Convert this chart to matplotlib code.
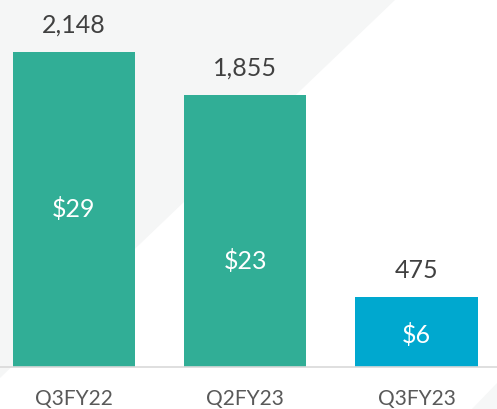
import matplotlib
matplotlib.use("Agg")
import matplotlib.pyplot as plt
from matplotlib.patches import Polygon

categories = ["Q3FY22", "Q2FY23", "Q3FY23"]
values = [2148, 1855, 475]
value_labels = ["2,148", "1,855", "475"]
inner_labels = ["$29", "$23", "$6"]
bar_colors = ["#31ae96", "#31ae96", "#00a8cf"]

# vertical placement of the inner labels, as a fraction of bar height
inner_frac = [0.476, 0.361, 0.35]

plt.rcParams['font.family'] = ['Lato', 'DejaVu Sans']

W, H = 497, 409
fig = plt.figure(figsize=(W / 100, H / 100), dpi=100)
fig.patch.set_facecolor("white")

# background decoration
fig.add_artist(Polygon([(0, 1), (395 / W, 1), (0, 1 - 378 / H)], closed=True,
                       transform=fig.transFigure, facecolor="#f5f6f6",
                       edgecolor="none", zorder=0))
fig.add_artist(Polygon([(472 / W, 0), (1, 26 / H), (1, 0)], closed=True,
                       transform=fig.transFigure, facecolor="#f6f7f7",
                       edgecolor="none", zorder=0))

ax = fig.add_axes([0, 42 / H, 1, 1 - 42 / H])
ax.patch.set_alpha(0)

x = list(range(len(categories)))
bars = ax.bar(x, values, width=0.715, color=bar_colors, edgecolor="none", zorder=2)

ax.set_xlim(-0.431, 2.47)
ax.set_ylim(0, 2500)

for xi, v, lab in zip(x, values, value_labels):
    ax.annotate(lab, (xi, v), xytext=(0, 14), textcoords="offset points",
                ha="center", va="baseline", fontsize=18, color="#404040")

for xi, v, lab, f in zip(x, values, inner_labels, inner_frac):
    ax.text(xi, v * f, lab, ha="center", va="baseline", fontsize=18,
            color="white", zorder=3)

for s in ["top", "right", "left"]:
    ax.spines[s].set_visible(False)
ax.spines["bottom"].set_color("#d9d9d9")
ax.spines["bottom"].set_linewidth(1.2)
ax.set_yticks([])
ax.set_xticks(x)
ax.set_xticklabels(categories, fontsize=15, color="#595959")
ax.tick_params(axis="x", length=0, pad=27.2)
for t in ax.get_xticklabels():
    t.set_va("baseline")

fig.savefig("out.png", dpi=100)
